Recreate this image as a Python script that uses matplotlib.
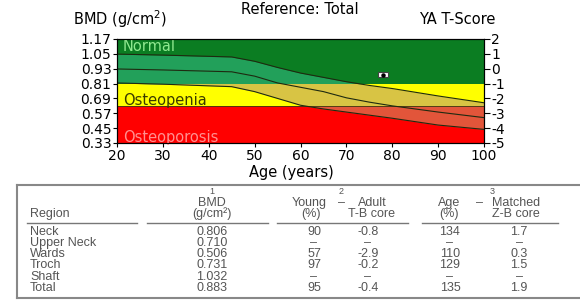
import numpy as np
import matplotlib.pyplot as plt
from matplotlib.patches import Rectangle

plt.rcParams['font.family'] = ['DejaVu Sans']

# reference curves
ages = [20, 30, 45, 50, 55, 60, 65, 70, 75, 80, 90, 100]
upper = [1.048, 1.040, 1.025, 0.990, 0.940, 0.895, 0.860, 0.825, 0.795, 0.770, 0.710, 0.655]
mean = [0.928, 0.920, 0.905, 0.870, 0.815, 0.780, 0.745, 0.695, 0.660, 0.630, 0.580, 0.535]
lower = [0.815, 0.805, 0.785, 0.745, 0.690, 0.635, 0.605, 0.580, 0.555, 0.530, 0.475, 0.440]

patient_age = 78
patient_bmd = 0.883

bmd_ticks = [1.17, 1.05, 0.93, 0.81, 0.69, 0.57, 0.45, 0.33]
t_ticks = [2, 1, 0, -1, -2, -3, -4, -5]

# table
regions = ["Neck", "Upper Neck", "Wards", "Troch", "Shaft", "Total"]
bmd_vals = ["0.806", "0.710", "0.506", "0.731", "1.032", "0.883"]
ya_pct = ["90", "\u2013", "57", "97", "\u2013", "95"]
t_scores = ["-0.8", "\u2013", "-2.9", "-0.2", "\u2013", "-0.4"]
am_pct = ["134", "\u2013", "110", "129", "\u2013", "135"]
z_scores = ["1.7", "\u2013", "0.3", "1.5", "\u2013", "1.9"]

W, H = 580, 305
fig = plt.figure(figsize=(W / 100, H / 100), dpi=100)


def fx(x):
    return x / W


def fy(y):
    return 1 - y / H


ax = fig.add_axes([fx(117), fy(143), fx(484) - fx(117), fy(39) - fy(143)])
ax.set_xlim(20, 100)
ax.set_ylim(0.33, 1.17)

# zones: background colour and colour of the +/-1 SD band inside it
zones = [(0.81, 1.17, '#0b7d22', '#22a05a'),
         (0.63, 0.81, '#ffff00', '#d8c444'),
         (0.33, 0.63, '#ff0000', '#e2553a')]
for lo, hi, bg, band in zones:
    ax.axhspan(lo, hi, color=bg, lw=0, zorder=0)
    poly = ax.fill_between(ages, lower, upper, color=band, lw=0, zorder=1)
    poly.set_clip_path(Rectangle((20, lo), 80, hi - lo, transform=ax.transData))

ax.axhline(0.63, color='#3a3a10', lw=0.6, zorder=2)
for curve in [upper, mean, lower]:
    ax.plot(ages, curve, color='#1e2a10', lw=0.8, zorder=3)

# patient marker
ax.add_patch(Rectangle((patient_age - 1.1, patient_bmd - 0.022), 2.2, 0.044,
                       fc='white', ec='#444444', lw=0.8, zorder=5))
ax.plot(patient_age, patient_bmd, 'o', color='black', ms=2.2, zorder=6)

ax.text(21.3, 1.108, "Normal", color='#8fe88f', fontsize=10.5, va='center', zorder=4)
ax.text(21.3, 0.672, "Osteopenia", color='#3a3a00', fontsize=10.5, va='center', zorder=4)
ax.text(21.3, 0.372, "Osteoporosis", color='#ff9090', fontsize=10.5, va='center', zorder=4)

ax.set_yticks(bmd_ticks)
ax.set_yticklabels([f"{v:.2f}" for v in bmd_ticks], fontsize=10)
ax.set_xticks(range(20, 101, 10))
ax.tick_params(axis='x', labelsize=10, length=3, pad=1)
ax.tick_params(axis='y', length=3, pad=1)
for s in ax.spines.values():
    s.set_linewidth(0.8)

ax2 = ax.twinx()
ax2.set_ylim(-5, 2)
ax2.set_yticks(t_ticks)
ax2.set_yticklabels([str(t) for t in t_ticks], fontsize=10)
ax2.tick_params(axis='y', length=4, pad=1)

fig.text(fx(73), fy(19), "BMD (g/cm$^2$)", fontsize=10.5, va='center', ha='left')
fig.text(fx(300), fy(10), "Reference: Total", fontsize=10.5, va='center', ha='center')
fig.text(fx(457), fy(20), "YA T-Score", fontsize=10.5, va='center', ha='center')
fig.text(fx(291), fy(172), "Age (years)", fontsize=10.5, va='center', ha='center')

# table frame
tc = '#555555'
fig.add_artist(plt.Line2D([fx(17), fx(580)], [fy(185), fy(185)], color='#888888', lw=1.5))
fig.add_artist(plt.Line2D([fx(17), fx(580)], [fy(298), fy(298)], color='#888888', lw=1.5))
fig.add_artist(plt.Line2D([fx(17), fx(17)], [fy(185), fy(298)], color='#888888', lw=1.5))
for x0, x1 in [(27, 137), (147, 268), (277, 408), (422, 558)]:
    fig.add_artist(plt.Line2D([fx(x0), fx(x1)], [fy(223), fy(223)], color='#777777', lw=1.0))

tf = ['Liberation Sans', 'DejaVu Sans']
fs = 9
hdr = [
    (30, 214, "Region", 'left', fs),
    (212, 192, "1", 'center', 6.5),
    (212, 203, "BMD", 'center', fs),
    (212, 214, "(g/cm\u00b2)", 'center', fs),
    (309, 203, "Young", 'center', fs),
    (311, 214, "(%)", 'center', fs),
    (341, 192, "2", 'center', 6.5),
    (341, 203, "\u2013", 'center', fs),
    (372, 203, "Adult", 'center', fs),
    (372, 214, "T-B core", 'center', fs),
    (449, 203, "Age", 'center', fs),
    (449, 214, "(%)", 'center', fs),
    (480, 203, "\u2013", 'center', fs),
    (492, 192, "3", 'center', 6.5),
    (516, 203, "Matched", 'center', fs),
    (516, 214, "Z-B core", 'center', fs),
]
for x, y, s, ha, size in hdr:
    fig.text(fx(x), fy(y), s, fontsize=size, color=tc, va='center', ha=ha, family=tf)

row_y = [232, 243, 254, 265, 277, 288]
cols = [(212, bmd_vals), (314, ya_pct), (368, t_scores), (450, am_pct), (519, z_scores)]
for i, ry in enumerate(row_y):
    fig.text(fx(30), fy(ry), regions[i], fontsize=fs, color=tc, va='center', family=tf)
    for cx, vals in cols:
        fig.text(fx(cx), fy(ry), vals[i], fontsize=fs, color=tc, va='center',
                 ha='center', family=tf)

fig.savefig("out.png", dpi=100)
